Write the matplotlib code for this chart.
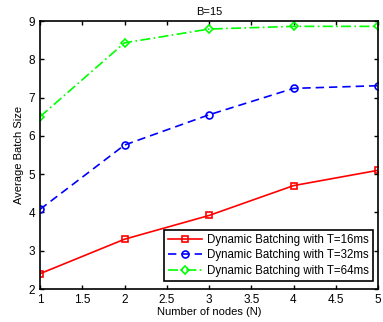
import matplotlib
matplotlib.use("Agg")
import matplotlib.pyplot as plt

plt.rcParams['font.family'] = ['Liberation Sans', 'DejaVu Sans']

nodes = [1, 2, 3, 4, 5]
t16 = [2.40, 3.30, 3.92, 4.70, 5.10]
t32 = [4.08, 5.76, 6.55, 7.24, 7.31]
t64 = [6.50, 8.43, 8.79, 8.86, 8.86]
labels = ["Dynamic Batching with T=16ms", "Dynamic Batching with T=32ms", "Dynamic Batching with T=64ms"]
xticks = [1, 1.5, 2, 2.5, 3, 3.5, 4, 4.5, 5]
yticks = [2, 3, 4, 5, 6, 7, 8, 9]

fig = plt.figure(figsize=(3.83, 3.22), dpi=100)
ax = fig.add_axes([40/383, 33/322, 338/383, 268/322])
ax.plot(nodes, t16, color='red', linestyle='-', marker='s', markersize=4.5,
        markerfacecolor='none', markeredgewidth=1.2, linewidth=1.2, label=labels[0])
ax.plot(nodes, t32, color='blue', linestyle=(0, (5, 3)), marker='o', markersize=5,
        markerfacecolor='none', markeredgewidth=1.2, linewidth=1.2, label=labels[1])
ax.plot(nodes, t64, color='#00ff00', linestyle=(0, (6, 2, 1, 2)), marker='D', markersize=4.5,
        markerfacecolor='none', markeredgewidth=1.2, linewidth=1.2, label=labels[2])
ax.set_xlim(1, 5)
ax.set_ylim(2, 9)
ax.set_xticks(xticks)
ax.set_xticklabels([f"{v:g}" for v in xticks])
ax.set_yticks(yticks)
ax.tick_params(direction='in', top=True, right=True, labelsize=8.5, length=3, width=1)
for s in ax.spines.values():
    s.set_linewidth(1.2)
ax.set_xlabel("Number of nodes (N)", fontsize=8, labelpad=1)
ax.set_ylabel("Average Batch Size", fontsize=8, labelpad=3)
ax.set_title("B=15", fontsize=8, pad=4)
leg = ax.legend(loc='lower right', fontsize=8.3, fancybox=False, edgecolor='black',
                framealpha=1, bbox_to_anchor=(0.985, 0.03), borderaxespad=0,
                handlelength=3, borderpad=0.35, labelspacing=0.3, handletextpad=0.4)
leg.get_frame().set_linewidth(1.2)
fig.savefig("out.png", dpi=100)
